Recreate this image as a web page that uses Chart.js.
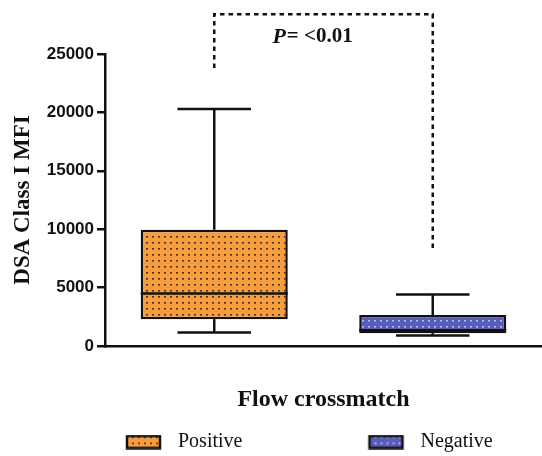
<!DOCTYPE html>
<html><head><meta charset="utf-8">
<script src="https://cdn.jsdelivr.net/npm/chart.js@4.4.0/dist/chart.umd.min.js"></script>
<style>html,body{margin:0;padding:0;background:#fff}canvas{display:block}</style>
</head><body>
<canvas id="c" width="542" height="456"></canvas>
<script>
// ---- data ----
const categories = ['Positive', 'Negative'];
const whiskerMin = [1150, 900];
const q1 = [2300, 1100];
const median = [4500, 1350];
const q3 = [9950, 2650];
const whiskerMax = [20300, 4400];
const yTicks = [0, 5000, 10000, 15000, 20000, 25000];
const pSymbol = 'P';
const pValueText = '= <0.01';
const bracketTopValue = 28400;
const bracketEndValues = [23800, 8200];
const yTitle = 'DSA Class I MFI';
const xTitle = 'Flow crossmatch';

// ---- styles ----
const fills = ['#F59D3F', '#5A5DB8'];
const dotColors = ['rgba(50,30,10,0.85)', 'rgba(190,200,245,0.9)'];
const INK = '#111';

function makePattern(bg, dot) {
  const c = document.createElement('canvas');
  c.width = 6; c.height = 6;
  const g = c.getContext('2d');
  g.fillStyle = bg; g.fillRect(0, 0, 6, 6);
  g.fillStyle = dot; g.fillRect(2, 2, 2, 1.6);
  return g.createPattern(c, 'repeat');
}
const ctx = document.getElementById('c').getContext('2d');
const patterns = fills.map((f, i) => makePattern(f, dotColors[i]));

const LEG_W = 158;
function legendImage(i) {
  const c = document.createElement('canvas');
  c.width = LEG_W; c.height = 15;
  const g = c.getContext('2d');
  const pat = makePattern(fills[i], dotColors[i]);
  const x0 = LEG_W + 10 - 51, y0 = 1.5;
  g.fillStyle = pat; g.fillRect(x0, y0, 33, 12);
  g.strokeStyle = INK; g.lineWidth = 2.5; g.strokeRect(x0, y0, 33, 12);
  return c;
}
const legendImgs = categories.map((c, i) => legendImage(i));

const whiskerPlugin = {
  id: 'whiskers',
  afterDatasetsDraw(chart) {
    const { ctx, scales: { x, y } } = chart;
    const meta = chart.getDatasetMeta(0);
    ctx.save();
    ctx.strokeStyle = INK; ctx.lineWidth = 2.5; ctx.lineCap = 'butt';
    const line = (a, b, c, d) => { ctx.beginPath(); ctx.moveTo(a, b); ctx.lineTo(c, d); ctx.stroke(); };
    categories.forEach((c, i) => {
      const cx = x.getPixelForValue(i);
      const bw = meta.data[i].width;
      const cap = bw * 0.25;
      const yMax = y.getPixelForValue(whiskerMax[i]);
      const yMin = y.getPixelForValue(whiskerMin[i]);
      line(cx, y.getPixelForValue(q3[i]), cx, yMax);
      line(cx - cap, yMax, cx + cap, yMax);
      line(cx, y.getPixelForValue(q1[i]), cx, yMin);
      line(cx - cap, yMin, cx + cap, yMin);
      const ym = y.getPixelForValue(median[i]);
      line(cx - bw / 2, ym, cx + bw / 2, ym);
    });
    ctx.restore();
  }
};

const annotationPlugin = {
  id: 'pvalue',
  afterDraw(chart) {
    const { ctx, scales: { x, y } } = chart;
    ctx.save();
    ctx.strokeStyle = INK; ctx.lineWidth = 2.5; ctx.setLineDash([4.5, 4]);
    const xl = x.getPixelForValue(0), xr = x.getPixelForValue(1);
    const yt = y.getPixelForValue(bracketTopValue);
    ctx.beginPath();
    ctx.moveTo(xl, y.getPixelForValue(bracketEndValues[0]));
    ctx.lineTo(xl, yt);
    ctx.lineTo(xr, yt);
    ctx.lineTo(xr, y.getPixelForValue(bracketEndValues[1]));
    ctx.stroke();
    ctx.setLineDash([]);
    const fI = 'italic bold 22px "Liberation Serif"';
    const fN = 'bold 21px "Liberation Serif"';
    ctx.font = fI; const w1 = ctx.measureText(pSymbol).width;
    ctx.font = fN; const w2 = ctx.measureText(pValueText).width;
    const cx = x.getPixelForValue(0.45);
    const cy = y.getPixelForValue(26450);
    const sx = cx - (w1 + 1 + w2) / 2;
    ctx.fillStyle = INK; ctx.textBaseline = 'middle'; ctx.textAlign = 'left';
    ctx.font = fI; ctx.fillText(pSymbol, sx, cy);
    ctx.font = fN; ctx.fillText(pValueText, sx + w1 + 1, cy);
    ctx.restore();
  }
};

new Chart(ctx, {
  type: 'bar',
  data: {
    labels: categories,
    datasets: [{
      label: 'IQR',
      data: categories.map((c, i) => [q1[i], q3[i]]),
      backgroundColor: patterns,
      borderColor: INK,
      borderWidth: 2.5,
      borderSkipped: false,
      barPercentage: 0.673,
      categoryPercentage: 1
    }]
  },
  options: {
    responsive: false,
    animation: false,
    devicePixelRatio: 1,
    layout: { padding: { top: 54, bottom: -6, left: 0, right: 0 } },
    plugins: {
      tooltip: { enabled: false },
      legend: {
        position: 'bottom',
        align: 'start',
        labels: {
          usePointStyle: true,
          pointStyleWidth: LEG_W,
          padding: 10,
          color: INK,
          font: { family: '"Liberation Serif"', size: 20 },
          generateLabels: () => categories.map((c, i) => ({
            text: c, pointStyle: legendImgs[i], fillStyle: fills[i],
            strokeStyle: INK, lineWidth: 0, hidden: false, index: i, datasetIndex: 0, fontColor: INK
          }))
        }
      }
    },
    scales: {
      x: {
        type: 'category',
        offset: true,
        grid: { display: false },
        border: { display: true, color: INK, width: 2.5 },
        ticks: { display: false },
        title: { display: true, text: xTitle, color: INK,
          font: { family: '"Liberation Serif"', size: 24, weight: 'bold' },
          padding: { top: 0, bottom: 8 } },
        afterFit: s => { s.height = 76; }
      },
      y: {
        min: 0, max: 25000,
        afterBuildTicks: s => { s.ticks = yTicks.map(v => ({ value: v })); },
        ticks: { color: INK, padding: 3, callback: v => String(v),
          font: { family: '"Liberation Sans"', size: 17, weight: 'bold' } },
        grid: { drawOnChartArea: false, drawTicks: true, tickLength: 8, color: INK, lineWidth: 2.5 },
        border: { display: true, color: INK, width: 2.5 },
        title: { display: true, text: yTitle, color: INK,
          font: { family: '"Liberation Serif"', size: 23, weight: 'bold' },
          padding: { top: 9, bottom: 0 } },
        afterFit: s => { s.width = 105; }
      }
    }
  },
  plugins: [whiskerPlugin, annotationPlugin]
});
</script>
</body></html>
